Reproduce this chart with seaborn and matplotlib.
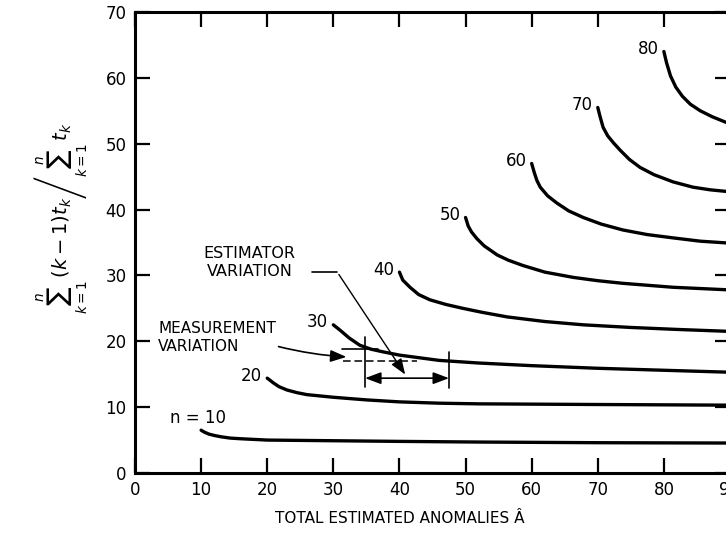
import matplotlib
matplotlib.use("Agg")
import matplotlib.pyplot as plt
import pandas as pd
import seaborn as sns

# ---- data ----
n_values = [10, 20, 30, 40, 50, 60, 70, 80]

A_n10 = [10, 10.5, 11.2, 12, 13, 14.4, 16, 18, 20, 25, 30, 40, 52, 70, 90]
R_n10 = [6.5, 6.2, 5.9, 5.7, 5.5, 5.3, 5.2, 5.1, 5.0, 4.95, 4.9, 4.8, 4.7, 4.6, 4.55]

A_n20 = [20, 20.4, 20.9, 21.8, 23, 24.5, 26, 28, 30, 35, 40, 46, 52, 70, 90]
R_n20 = [14.4, 14.1, 13.7, 13.1, 12.6, 12.2, 11.9, 11.7, 11.5, 11.1, 10.8, 10.6, 10.5, 10.4, 10.3]

A_n30 = [30, 31, 32.4, 34, 35.7, 37.5, 40, 43, 46, 52, 60, 70, 80, 90]
R_n30 = [22.5, 21.7, 20.5, 19.4, 18.8, 18.4, 17.9, 17.5, 17.1, 16.7, 16.3, 15.9, 15.6, 15.3]

A_n40 = [40, 40.5, 41.6, 42.9, 44.6, 47, 49.6, 52.5, 56.3, 62, 67.8, 75, 82, 90]
R_n40 = [30.5, 29.3, 28.2, 27.1, 26.3, 25.6, 25.0, 24.4, 23.7, 23.0, 22.5, 22.1, 21.8, 21.5]

A_n50 = [50, 50.4, 50.9, 51.7, 52.8, 54.8, 56.5, 58.7, 62, 66.3, 70, 73.8, 81.4, 90]
R_n50 = [38.8, 37.5, 36.6, 35.6, 34.5, 33.1, 32.3, 31.5, 30.5, 29.7, 29.2, 28.8, 28.2, 27.8]

A_n60 = [60, 60.4, 60.8, 61.3, 62.4, 63.8, 65.6, 67.8, 70.5, 73.8, 77.5, 81.4, 85.5, 90]
R_n60 = [47.0, 45.6, 44.4, 43.4, 42.1, 41.0, 39.8, 38.8, 37.8, 36.9, 36.2, 35.7, 35.2, 34.9]

A_n70 = [70, 70.3, 70.8, 71.5, 72.4, 73.4, 74.8, 76.4, 78.5, 81.4, 84.4, 87, 90]
R_n70 = [55.5, 54.3, 52.5, 51.2, 50.1, 49.0, 47.6, 46.4, 45.3, 44.2, 43.4, 43.0, 42.7]

A_n80 = [80, 80.4, 81, 81.8, 82.8, 84, 85.5, 87.3, 90]
R_n80 = [64.0, 62.3, 60.3, 58.6, 57.2, 56.0, 55.0, 54.1, 53.0]

curve_A = [A_n10, A_n20, A_n30, A_n40, A_n50, A_n60, A_n70, A_n80]
curve_R = [R_n10, R_n20, R_n30, R_n40, R_n50, R_n60, R_n70, R_n80]

x_ticks = [0, 10, 20, 30, 40, 50, 60, 70, 80, 90]
y_ticks = [0, 10, 20, 30, 40, 50, 60, 70]

frames = []
for n, a, r in zip(n_values, curve_A, curve_R):
    frames.append(pd.DataFrame({"A": a, "R": r, "n": n}))
df = pd.concat(frames, ignore_index=True)

# ---- styling ----
sns.set_theme(style="white")
plt.rcParams["font.family"] = ["DejaVu Sans"]
plt.rcParams["mathtext.fontset"] = "dejavusans"

fig = plt.figure(figsize=(7.26, 5.33), dpi=100)
ax = fig.add_axes([135 / 726, 60 / 533, 595 / 726, 461 / 533])

sns.lineplot(data=df, x="A", y="R", units="n", estimator=None, sort=False,
             color="black", linewidth=2.4, ax=ax, legend=False)
for ln in ax.get_lines():
    ln.set_solid_joinstyle("round")
    ln.set_solid_capstyle("round")

ax.set_xlim(0, 90)
ax.set_ylim(0, 70)
ax.set_xticks(x_ticks)
ax.set_yticks(y_ticks)
ax.tick_params(axis="both", which="major", direction="in", length=11, width=1.6,
               color="black", labelsize=12, labelcolor="black",
               top=True, right=True, bottom=True, left=True)
ax.tick_params(axis="x", pad=6)
ax.tick_params(axis="y", pad=6)
for sp in ax.spines.values():
    sp.set_visible(True)
    sp.set_color("black")
    sp.set_linewidth(2.2)

ax.set_xlabel("TOTAL ESTIMATED ANOMALIES Â", fontsize=11, color="black")
ax.xaxis.set_label_coords(0.445, -0.083)
ax.set_ylabel(r"$\left.\sum_{k=1}^{n}\,(k-1)t_k\right/\sum_{k=1}^{n}\,t_k$",
              fontsize=14, color="black")
ax.yaxis.set_label_coords(-0.075, 0.553)

# curve labels
for n, a, r in zip(n_values[1:], curve_A[1:], curve_R[1:]):
    ax.text(a[0] - 0.8, r[0] + 0.4, str(n), ha="right", va="center",
            fontsize=12, color="black")
ax.text(9.5, 8.3, "n = 10", ha="center", va="center", fontsize=12, color="black")

# annotations
ax.text(3.5, 20.5, "MEASUREMENT\nVARIATION", ha="left", va="center",
        fontsize=11, linespacing=1.25, color="black")
ax.text(17.3, 32.0, "ESTIMATOR\nVARIATION", ha="center", va="center",
        fontsize=11.5, linespacing=1.25, multialignment="center", color="black")

# measurement leader arrow
ax.annotate("", xy=(32.4, 17.6), xytext=(21.3, 19.3),
            arrowprops=dict(arrowstyle="-|>,head_length=0.8,head_width=0.3",
                            color="black", lw=1.2,
                            connectionstyle="arc3,rad=0.05"))
# estimator leader
ax.plot([26.8, 30.6], [30.5, 30.5], color="black", lw=1.2)
ax.annotate("", xy=(41.1, 14.6), xytext=(30.6, 30.5),
            arrowprops=dict(arrowstyle="-|>,head_length=0.8,head_width=0.3",
                            color="black", lw=1.0))

# measurement cross and bracket
ax.plot([34.8, 34.8], [13.1, 20.6], color="black", lw=1.2)
ax.plot([31.3, 36.8], [18.8, 18.8], color="black", lw=1.2)
ax.plot([31.5, 42.7], [17.0, 17.0], color="black", lw=1.1, linestyle=(0, (5, 2.5)))
ax.plot([47.5, 47.5], [12.9, 18.4], color="black", lw=1.2)
ax.annotate("", xy=(34.8, 14.4), xytext=(47.5, 14.4),
            arrowprops=dict(arrowstyle="<|-|>,head_length=0.8,head_width=0.3",
                            color="black", lw=1.2, shrinkA=0, shrinkB=0))

fig.savefig("out.png", dpi=100)
